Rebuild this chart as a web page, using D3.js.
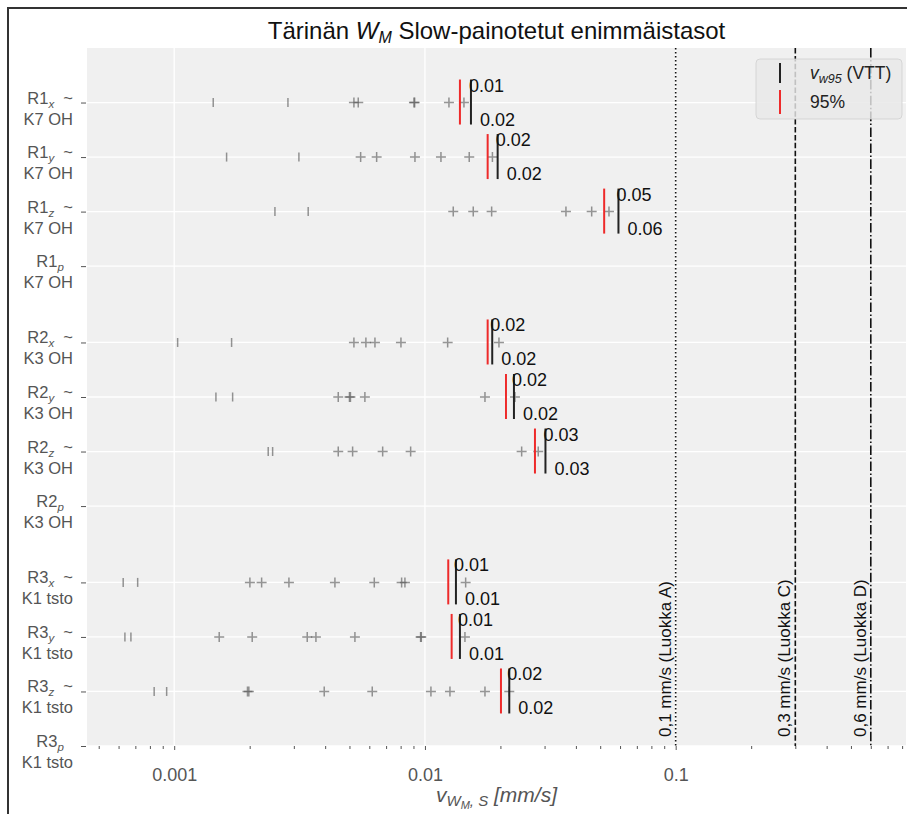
<!DOCTYPE html>
<html>
<head>
<meta charset="utf-8">
<script src="https://cdn.jsdelivr.net/npm/d3@7"></script>
<style>
  body { margin: 0; background: #fff; }
  text { font-family: "Liberation Sans", Arial, sans-serif; }
</style>
</head>
<body>
<svg id="chart" width="907" height="814"></svg>
<script>
// Measurement points and components
const sensors = ["R1", "R2", "R3"];
const sites = ["K7 OH", "K3 OH", "K1 tsto"];
const components = ["x", "y", "z", "p"];

// Individual event maxima (mm/s), one list per sensor/component row.
// Low-level events drawn with "|" markers
const lowValues = [
  [0.001431, 0.002842], [0.001618, 0.003143], [0.002522, 0.003423], [],
  [0.001032, 0.001694], [0.001467, 0.001710], [0.002371, 0.002469], [],
  [0.000626, 0.000715], [0.000636, 0.000672], [0.000832, 0.000933], []
];
// Events drawn with "+" markers
const plusValues = [
  [0.005209, 0.005420, 0.009040, 0.009100, 0.012467, 0.014308],
  [0.005541, 0.006418, 0.009124, 0.011584, 0.015020, 0.018584],
  [0.012970, 0.015583, 0.018450, 0.036508, 0.046238, 0.054200],
  [],
  [0.005209, 0.005815, 0.006319, 0.008022, 0.012321, 0.019733],
  [0.004511, 0.005000, 0.005045, 0.005761, 0.017355, 0.022856],
  [0.004511, 0.005147, 0.006783, 0.008770, 0.024304, 0.028305],
  [],
  [0.002004, 0.002232, 0.002868, 0.004375, 0.006280, 0.008073, 0.008321, 0.014534],
  [0.001512, 0.002047, 0.003393, 0.003675, 0.005257, 0.009610, 0.009670, 0.014440],
  [0.001960, 0.001985, 0.003966, 0.006164, 0.010566, 0.012583, 0.017355, 0.021695],
  []
];
// 95 % level and v_w95 (VTT) statistic per row
const p95Values  = [0.013790, 0.017788, 0.051855, null, 0.017788, 0.021046, 0.027465, null, 0.012388, 0.012780, 0.020100, null];
const vw95Values = [0.015259, 0.019498, 0.059125, null, 0.018551, 0.022646, 0.030245, null, 0.013293, 0.013790, 0.021695, null];

// Vibration class limits
const limitValues = [0.1, 0.3, 0.6];
const limitLabels = ["0,1 mm/s (Luokka A)", "0,3 mm/s (Luokka C)", "0,6 mm/s (Luokka D)"];
const limitDash = ["1.5,2.5", "5.5,2.4", "9.6,2.4,1.5,2.4"];

// x axis ticks
const xTickValues = [0.001, 0.01, 0.1];
const xTickLabels = ["0.001", "0.01", "0.1"];

// ---- layout ----
const plotLeft = 87, plotRight = 906, plotTop = 48, plotBottom = 746;
const svg = d3.select("#chart");

const x = d3.scaleLog().domain([0.000449, 0.829]).range([plotLeft, plotRight]);
const y = d3.scaleLinear().domain([-1, 11.8]).range([plotTop, plotBottom]);

// rows: each sensor group of four components, groups separated by a gap
const rows = [];
sensors.forEach((s, gi) => {
  components.forEach((c, ci) => {
    const i = gi * components.length + ci;
    rows.push({
      sensor: s, comp: c, site: sites[gi],
      pos: gi * 4.4 + ci,
      low: lowValues[i], plus: plusValues[i],
      p95: p95Values[i], vw95: vw95Values[i]
    });
  });
});

// figure frame
svg.append("line").attr("x1", 8).attr("x2", 8).attr("y1", 7).attr("y2", 814)
  .attr("stroke", "#333").attr("stroke-width", 2);
svg.append("line").attr("x1", 7).attr("x2", 907).attr("y1", 8).attr("y2", 8)
  .attr("stroke", "#333").attr("stroke-width", 2);

// plot background
svg.append("rect").attr("x", plotLeft).attr("y", plotTop)
  .attr("width", plotRight - plotLeft).attr("height", plotBottom - plotTop)
  .attr("fill", "#f0f0f0");

// grid
const grid = svg.append("g").attr("stroke", "#fff").attr("stroke-width", 1.3);
grid.selectAll("line.h").data(rows).join("line").attr("class", "h")
  .attr("x1", plotLeft).attr("x2", plotRight)
  .attr("y1", d => y(d.pos)).attr("y2", d => y(d.pos));
grid.selectAll("line.v").data(xTickValues).join("line").attr("class", "v")
  .attr("x1", d => x(d)).attr("x2", d => x(d))
  .attr("y1", plotTop).attr("y2", plotBottom);

// x axis: major and minor ticks
const minorTicks = [];
for (let e = -4; e <= 0; e++) for (let m = 2; m <= 9; m++) {
  const v = m * Math.pow(10, e);
  if (v >= x.domain()[0] && v <= x.domain()[1]) minorTicks.push(v);
}
const xMinor = svg.append("g").attr("transform", `translate(0,${plotBottom})`)
  .call(d3.axisBottom(x).tickValues(minorTicks).tickSize(3).tickFormat(""));
const xMajor = svg.append("g").attr("transform", `translate(0,${plotBottom})`)
  .call(d3.axisBottom(x).tickValues(xTickValues).tickSize(4)
    .tickFormat((d, i) => xTickLabels[i]));
[xMinor, xMajor].forEach(g => {
  g.select(".domain").remove();
  g.selectAll(".tick line").attr("stroke", "#555").attr("stroke-width", 1);
});
xMajor.selectAll(".tick text").attr("fill", "#555").attr("font-size", 18)
  .attr("dy", 0).attr("y", 35)
  .style("font-family", "'Liberation Sans', Arial, sans-serif");

// y axis ticks
const yAxis = svg.append("g").attr("transform", `translate(${plotLeft - 1},0)`)
  .call(d3.axisLeft(y).tickValues(rows.map(r => r.pos)).tickSize(5).tickFormat(""));
yAxis.select(".domain").remove();
yAxis.selectAll(".tick line").attr("stroke", "#555");

// y tick labels (two lines)
const ylab = svg.append("g").selectAll("text").data(rows).join("text")
  .attr("text-anchor", "end").attr("fill", "#555").attr("font-size", 16.5)
  .style("white-space", "pre");
ylab.each(function (d) {
  const t = d3.select(this);
  const yy = y(d.pos);
  const l1 = t.append("tspan").attr("x", 73).attr("y", yy + 1);
  l1.append("tspan").text(d.sensor);
  l1.append("tspan").attr("font-size", 11.5).attr("font-style", "italic")
    .attr("dy", 4).text(d.comp);
  l1.append("tspan").attr("dy", -4).text(d.comp === "p" ? "\u00a0\u00a0" : "\u00a0\u00a0~");
  t.append("tspan").attr("x", 73).attr("y", yy + 22).text(d.site);
});

// class limit lines
const lim = svg.append("g");
limitValues.forEach((v, i) => {
  lim.append("line").attr("x1", x(v)).attr("x2", x(v))
    .attr("y1", plotTop).attr("y2", plotBottom)
    .attr("stroke", "#111").attr("stroke-width", 1.6)
    .attr("stroke-dasharray", limitDash[i]);
  lim.append("text")
    .attr("transform", `translate(${x(v) - 5},${plotBottom - 9}) rotate(-90)`)
    .attr("font-size", 17).attr("fill", "#111")
    .text(limitLabels[i]);
});

// event markers
const markColor = "#555", markOpacity = 0.62;
const marks = svg.append("g").attr("stroke", markColor)
  .attr("stroke-opacity", markOpacity).attr("stroke-width", 1.5).attr("fill", "none");
rows.forEach(r => {
  const yy = y(r.pos);
  r.low.forEach(v => {
    marks.append("line").attr("x1", x(v)).attr("x2", x(v))
      .attr("y1", yy - 4.5).attr("y2", yy + 4.5);
  });
  r.plus.forEach(v => {
    marks.append("path")
      .attr("d", `M${x(v) - 5},${yy}H${x(v) + 5}M${x(v)},${yy - 5}V${yy + 5}`);
  });
});

// 95 % and v_w95 bars with value labels
const stat = svg.append("g");
rows.filter(r => r.p95 != null).forEach(r => {
  const yy = y(r.pos);
  stat.append("line").attr("x1", x(r.p95)).attr("x2", x(r.p95))
    .attr("y1", yy - 23).attr("y2", yy + 22)
    .attr("stroke", "#ee2a2a").attr("stroke-width", 2);
  stat.append("line").attr("x1", x(r.vw95)).attr("x2", x(r.vw95))
    .attr("y1", yy - 23).attr("y2", yy + 22)
    .attr("stroke", "#222").attr("stroke-width", 2);
  stat.append("text").attr("x", x(r.vw95) - 2).attr("y", yy - 11)
    .attr("font-size", 18).attr("fill", "#111").text(r.p95.toFixed(2));
  stat.append("text").attr("x", x(r.vw95) + 9).attr("y", yy + 23)
    .attr("font-size", 18).attr("fill", "#111").text(r.vw95.toFixed(2));
});

// legend
const lg = svg.append("g");
lg.append("rect").attr("x", 756).attr("y", 59).attr("width", 146).attr("height", 60)
  .attr("rx", 4).attr("fill", "#e8e8e8").attr("fill-opacity", 0.82)
  .attr("stroke", "#d0d0d0").attr("stroke-opacity", 0.8);
lg.append("line").attr("x1", 780).attr("x2", 780).attr("y1", 63).attr("y2", 83)
  .attr("stroke", "#222").attr("stroke-width", 2);
lg.append("line").attr("x1", 780).attr("x2", 780).attr("y1", 90).attr("y2", 114)
  .attr("stroke", "#ee2a2a").attr("stroke-width", 2);
const t1 = lg.append("text").attr("x", 810).attr("y", 79).attr("font-size", 17.5).attr("fill", "#222");
t1.append("tspan").attr("font-style", "italic").text("v");
t1.append("tspan").attr("font-style", "italic").attr("font-size", 12.5).attr("dy", 4).text("w95");
t1.append("tspan").attr("dy", -4).text(" (VTT)");
lg.append("text").attr("x", 810).attr("y", 108).attr("font-size", 17.5).attr("fill", "#222").text("95%");

// title
const title = svg.append("text").attr("x", (plotLeft + plotRight) / 2).attr("y", 39)
  .attr("text-anchor", "middle").attr("font-size", 24).attr("fill", "#111");
title.append("tspan").text("Tärinän ");
title.append("tspan").attr("font-style", "italic").text("W");
title.append("tspan").attr("font-style", "italic").attr("font-size", 16).attr("dy", 4).text("M");
title.append("tspan").attr("dy", -4).text(" Slow-painotetut enimmäistasot");

// x axis label
const xl = svg.append("text").attr("x", (plotLeft + plotRight) / 2).attr("y", 802)
  .attr("text-anchor", "middle").attr("font-size", 21).attr("fill", "#555")
  .attr("font-style", "italic");
xl.append("tspan").text("v");
xl.append("tspan").attr("font-size", 15).attr("dy", 4).text("W");
xl.append("tspan").attr("font-size", 11).attr("dy", 3).text("M");
xl.append("tspan").attr("font-size", 15).attr("dy", -3).text(", S");
xl.append("tspan").attr("dy", -4).text(" [mm/s]");
</script>
</body>
</html>
